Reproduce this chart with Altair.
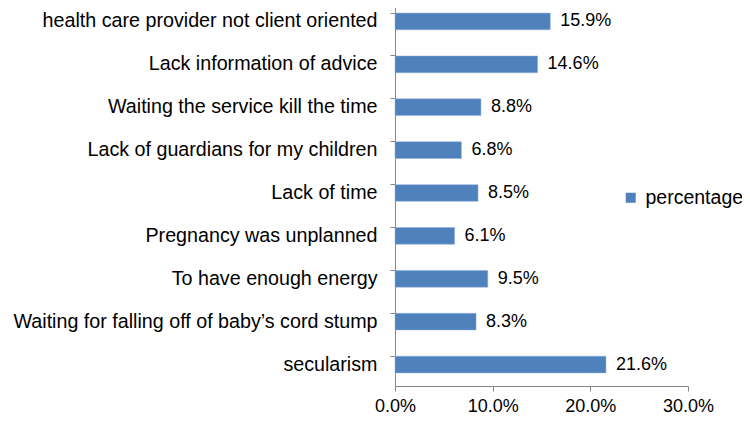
import altair as alt
import pandas as pd

categories = [
    "health care provider not client oriented",
    "Lack information of advice",
    "Waiting the service kill the time",
    "Lack of guardians for my children",
    "Lack of time",
    "Pregnancy was unplanned",
    "To have enough energy",
    "Waiting for falling off of baby\u2019s cord stump",
    "secularism ",
]
values = [0.159, 0.146, 0.088, 0.068, 0.085, 0.061, 0.095, 0.083, 0.216]
series = ["percentage"] * len(categories)

df = pd.DataFrame({"cat": categories, "val": values, "series": series})

FONT = "Liberation Sans"
AX = "#868686"

base = alt.Chart(df).encode(
    y=alt.Y(
        "cat:N",
        sort=categories,
        title=None,
        scale=alt.Scale(paddingInner=0.61, paddingOuter=0.305),
        axis=alt.Axis(
            labelFont=FONT,
            labelFontSize=19.7,
            labelColor="#000000",
            labelPadding=13,
            tickSize=5,
            tickColor=AX,
            domainColor=AX,
            bandPosition=0,
            labelLimit=500,
            labelBound=False,
        ),
    ),
    x=alt.X(
        "val:Q",
        title=None,
        scale=alt.Scale(domain=[0, 0.3], nice=False),
        axis=alt.Axis(
            values=[0, 0.1, 0.2, 0.3],
            format=".1%",
            labelFont=FONT,
            labelFontSize=18,
            labelColor="#000000",
            labelPadding=6,
            tickSize=5,
            tickColor=AX,
            domainColor=AX,
            grid=False,
            labelFlush=False,
        ),
    ),
)

bars = base.mark_bar(color="#4F81BD", stroke="#8EB0DB", strokeWidth=0.5).encode(
    color=alt.Color(
        "series:N",
        scale=alt.Scale(range=["#4F81BD"]),
        legend=alt.Legend(
            title=None,
            orient="none",
            legendX=226,
            legendY=188,
            symbolType="square",
            symbolSize=100,
            symbolStrokeWidth=0,
            labelFont=FONT,
            labelFontSize=19.5,
            labelColor="#000000",
            labelOffset=5,
            padding=0,
        ),
    )
)

labels = base.mark_text(
    align="left", baseline="middle", dx=10, font=FONT, fontSize=18, color="#000000"
).encode(text=alt.Text("val:Q", format=".1%"))

chart = (
    (bars + labels)
    .properties(
        width=293,
        height=386,
        autosize=alt.AutoSizeParams(type="none"),
        padding={"left": 387, "top": -8, "right": 54, "bottom": 28},
        background="#ffffff",
    )
    .configure_view(strokeWidth=0, stroke="transparent")
)

chart.save("out.html", embed_options={"renderer": "svg", "actions": False})
